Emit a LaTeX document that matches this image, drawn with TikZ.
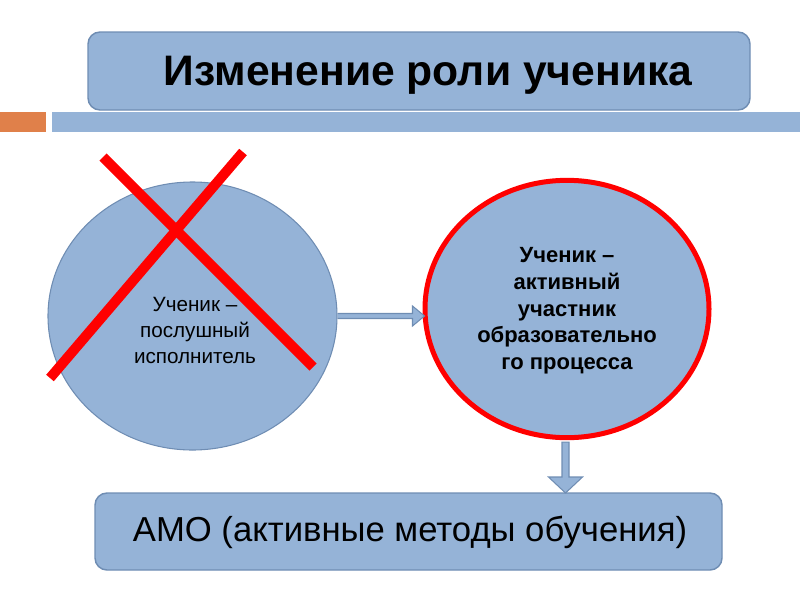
\documentclass[tikz,border=0pt]{standalone}
\usepackage{fontspec}
\setmainfont{Liberation Sans}
\usetikzlibrary{shapes.geometric,calc}
\definecolor{boxblue}{HTML}{95B3D7}
\definecolor{boxedge}{HTML}{6F8DB3}
\definecolor{barorange}{HTML}{E0804A}
\definecolor{xred}{HTML}{FF0000}
\tikzset{
  roundbox/.style={draw=boxedge, line width=1.1pt, fill=boxblue, rounded corners=9pt},
  oval/.style={ellipse, inner sep=0pt, fill=boxblue, align=center},
  blockarrow/.style={draw=boxedge, line width=0.8pt, fill=boxblue, line join=miter},
  cross/.style={draw=xred, line width=7.5pt},
  bar/.style={draw=none},
}
\begin{document}
\begin{tikzpicture}[x=0.75pt, y=-0.75pt]
\useasboundingbox (0,0) rectangle (800,600);
% header bars
\path[bar, fill=barorange] (0,112) rectangle (46,132);
\path[bar, fill=boxblue] (52,112) rectangle (800,132);
% title
\draw[roundbox] (88,32) rectangle (750,110);
\node[font=\bfseries\fontsize{32}{38}\selectfont] (T) at (428,75) {Изменение роли ученика};
% ellipses
\node[oval, draw=boxedge, line width=0.8pt, minimum width=216.75pt, minimum height=201pt] (L) at (192.5,316) {};
\node[font=\fontsize{15.5}{19.5}\selectfont, align=center] (Lt) at (195,330) {Ученик –\\послушный\\исполнитель};
\node[oval, draw=xred, line width=3.75pt, minimum width=213pt, minimum height=193pt,
      font=\bfseries\fontsize{16.5}{20}\selectfont] (R) at (567,309) {};
\node[font=\bfseries\fontsize{16.5}{20}\selectfont, align=center] (Rt) at (567,311) {Ученик –\\активный\\участник\\образовательно\\го процесса};
% bottom box
\draw[roundbox] (95,493) rectangle (722,570);
\node[font=\fontsize{26}{31}\selectfont] (A) at (410,532) {АМО (активные методы обучения)};
\coordinate (Abox) at (565,493);
% red cross
\draw[cross] (103,157) -- (313,367);
\draw[cross] (243,152) -- (50,378);
% right arrow
\coordinate (a0) at (L.east);
\coordinate (a1) at ($(R.west |- L.east)+(2,0)$);
\path[blockarrow] ($(a0)+(0,-2.5)$) -- ($(a1)+(-12,-2.5)$) -- ($(a1)+(-12,-10)$) -- (a1)
  -- ($(a1)+(-12,10)$) -- ($(a1)+(-12,2.5)$) -- ($(a0)+(0,2.5)$);
% down arrow
\coordinate (b0) at ($(R.south)+(-1.5,2)$);
\coordinate (b1) at (b0 |- Abox);
\path[blockarrow] ($(b0)+(-3.5,0)$) -- ($(b1)+(-3.5,-16)$) -- ($(b1)+(-17,-16)$) -- (b1)
  -- ($(b1)+(17,-16)$) -- ($(b1)+(3.5,-16)$) -- ($(b0)+(3.5,0)$) -- cycle;
\end{tikzpicture}
\end{document}
